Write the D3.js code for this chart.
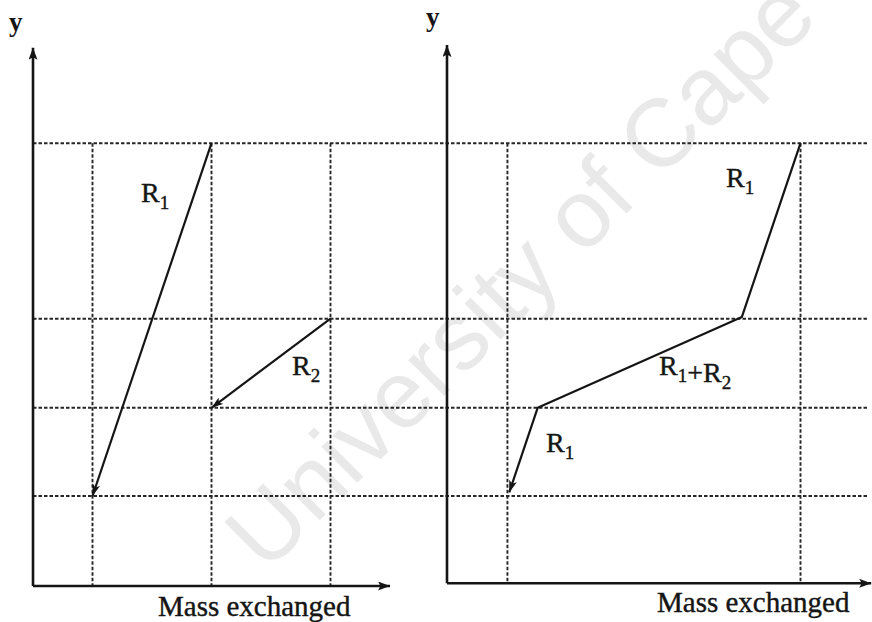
<!DOCTYPE html>
<html>
<head>
<meta charset="utf-8">
<script src="https://cdn.jsdelivr.net/npm/d3@7"></script>
<style>
  html, body { margin: 0; padding: 0; background: #fff; }
  svg { display: block; }
</style>
</head>
<body>
<svg id="chart" width="872" height="622"></svg>
<script>
// ---------------- data (abstract units) ----------------
const yLevels = [1.0, 1.98, 2.97, 4.92];          // dashed horizontal composition levels
const leftGridX = [1, 3, 5];                      // left panel dashed verticals (mass)
const rightGridX = [1, 5.85];                     // right panel dashed verticals (mass)
const leftR1 = [[3, 4.92], [1, 1.0]];             // stream R1 (left panel)
const leftR2 = [[5, 2.97], [3, 1.98]];            // stream R2 (left panel)
const compositeCurve = [[5.85, 4.92], [4.88, 2.99], [1.5, 1.98], [1.03, 1.04]]; // right panel
const axisLabel = "Mass exchanged";
const yLabel = "y";
const watermark = "University of Cape Town";

// ---------------- scales ----------------
const y = d3.scaleLinear().domain([0, 6]).range([586, 46]);
const xL = d3.scaleLinear().domain([0, 6]).range([33, 390]);
const xR = d3.scaleLinear().domain([0, 7]).range([447, 870]);

const svg = d3.select("#chart");
const ink = "#151515";

// markers
const defs = svg.append("defs");
defs.append("marker").attr("id", "arrow").attr("viewBox", "0 0 12 8")
  .attr("refX", 12).attr("refY", 4).attr("markerWidth", 12).attr("markerHeight", 8)
  .attr("markerUnits", "userSpaceOnUse").attr("orient", "auto")
  .append("path").attr("d", "M0,0L12,4L0,8L3,4Z").attr("fill", ink);
defs.append("marker").attr("id", "axisArrow").attr("viewBox", "0 0 12 9")
  .attr("refX", 12).attr("refY", 4.5).attr("markerWidth", 12).attr("markerHeight", 9)
  .attr("markerUnits", "userSpaceOnUse").attr("orient", "auto")
  .append("path").attr("d", "M0,0L12,4.5L0,9L2.5,4.5Z").attr("fill", ink);

// watermark (faint, behind the drawing)
svg.append("text")
  .attr("transform", "translate(266,574) rotate(-45)")
  .attr("font-family", "'Liberation Sans', Arial, sans-serif")
  .attr("font-size", 96)
  .attr("fill", "#e9e9e9")
  .text(watermark);

// ---------------- dashed grid ----------------
const g = svg.append("g");
function applyDash(sel) {
  return sel.attr("stroke", "#262626").attr("stroke-width", 1.9).attr("stroke-dasharray", "3.5,2");
}

applyDash(g.selectAll("line.h").data(yLevels).join("line").attr("class", "h")
  .attr("x1", xL(0)).attr("x2", xR(6.95))
  .attr("y1", d => y(d)).attr("y2", d => y(d)));

applyDash(g.selectAll("line.vl").data(leftGridX).join("line").attr("class", "vl")
  .attr("x1", d => xL(d)).attr("x2", d => xL(d))
  .attr("y1", y(yLevels[3])).attr("y2", y(0)));

applyDash(g.selectAll("line.vr").data(rightGridX).join("line").attr("class", "vr")
  .attr("x1", d => xR(d)).attr("x2", d => xR(d))
  .attr("y1", y(yLevels[3])).attr("y2", y(0.03)));

// ---------------- axes ----------------
const axes = svg.append("g").attr("stroke", ink).attr("stroke-width", 2.6).attr("fill", "none");
// left panel
axes.append("line").attr("x1", xL(0)).attr("y1", y(0)).attr("x2", xL(0)).attr("y2", y(5.98))
  .attr("marker-end", "url(#axisArrow)");
axes.append("line").attr("x1", xL(0)).attr("y1", y(0)).attr("x2", xL(6)).attr("y2", y(0))
  .attr("marker-end", "url(#axisArrow)");
// right panel
axes.append("line").attr("x1", xR(0)).attr("y1", y(0.03)).attr("x2", xR(0)).attr("y2", y(6.01))
  .attr("marker-end", "url(#axisArrow)");
axes.append("line").attr("x1", xR(0)).attr("y1", y(0.03)).attr("x2", xR(7.02)).attr("y2", y(0.03))
  .attr("marker-end", "url(#axisArrow)");

// ---------------- streams ----------------
const lineL = d3.line().x(d => xL(d[0])).y(d => y(d[1]));
const lineR = d3.line().x(d => xR(d[0])).y(d => y(d[1]));
const marks = svg.append("g").attr("fill", "none").attr("stroke", ink).attr("stroke-width", 2.2)
  .attr("stroke-linejoin", "round");
marks.append("path").attr("d", lineL(leftR1)).attr("marker-end", "url(#arrow)");
marks.append("path").attr("d", lineL(leftR2)).attr("marker-end", "url(#arrow)");
marks.append("path").attr("d", lineR(compositeCurve)).attr("marker-end", "url(#arrow)");

// ---------------- labels ----------------
const serif = "'Liberation Serif', 'Times New Roman', serif";
function rLabel(x0, y0, parts) {
  const t = svg.append("text").attr("x", x0).attr("y", y0)
    .attr("font-family", serif).attr("font-size", 28).attr("fill", ink)
    .attr("stroke", ink).attr("stroke-width", 0.4);
  parts.forEach(p => {
    if (p.sub) {
      t.append("tspan").attr("font-size", 19).attr("dy", 7).text(p.t);
      t.append("tspan").attr("font-size", 28).attr("dy", -7).text("");
    } else {
      t.append("tspan").text(p.t);
    }
  });
  return t;
}
rLabel(141, 202, [{ t: "R" }, { t: "1", sub: true }]);
rLabel(292, 375, [{ t: "R" }, { t: "2", sub: true }]);
rLabel(726, 187, [{ t: "R" }, { t: "1", sub: true }]);
rLabel(659, 375, [{ t: "R" }, { t: "1", sub: true }, { t: "+R" }, { t: "2", sub: true }]);
rLabel(546, 452, [{ t: "R" }, { t: "1", sub: true }]);

svg.append("text").attr("x", 158).attr("y", 616).attr("font-family", serif)
  .attr("font-size", 29).attr("fill", ink).attr("stroke", ink).attr("stroke-width", 0.4)
  .text(axisLabel);
svg.append("text").attr("x", 657).attr("y", 612).attr("font-family", serif)
  .attr("font-size", 29).attr("fill", ink).attr("stroke", ink).attr("stroke-width", 0.4)
  .text(axisLabel);

svg.append("text").attr("x", 9).attr("y", 31).attr("font-family", serif)
  .attr("font-size", 27).attr("font-weight", "bold").attr("fill", ink).text(yLabel);
svg.append("text").attr("x", 426).attr("y", 26).attr("font-family", serif)
  .attr("font-size", 27).attr("font-weight", "bold").attr("fill", ink).text(yLabel);
</script>
</body>
</html>
